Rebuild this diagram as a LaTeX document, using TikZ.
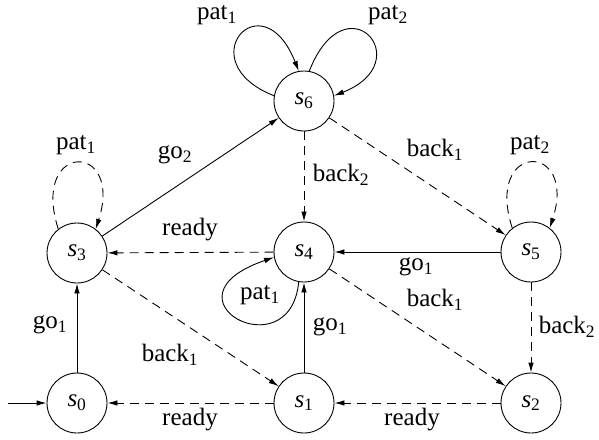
\documentclass[tikz,border=0pt]{standalone}
\usepackage{fontspec}
\setmainfont{Liberation Serif}
\usetikzlibrary{arrows.meta}
\newcommand\lsub[1]{\textsubscript{#1}}
\begin{document}
\begin{tikzpicture}[x=1pt,y=-1pt, line width=0.9pt, >={Latex[length=10pt,width=5.5pt]},
  state/.style={circle,draw,minimum size=60pt,inner sep=0pt},
  lbl/.style={inner sep=0pt},
  dsh/.style={dash pattern=on 9pt off 6pt},
  every node/.style={font=\fontsize{25}{30}\selectfont}]
\useasboundingbox (0,0) rectangle (599,439);
\node[state] (s6) at (304,101) {\textit{s}\lsub{6}};
\node[state] (s3) at (77,253) {\textit{s}\lsub{3}};
\node[state] (s4) at (304,252) {\textit{s}\lsub{4}};
\node[state] (s5) at (531,252) {\textit{s}\lsub{5}};
\node[state] (s0) at (77,403) {\textit{s}\lsub{0}};
\node[state] (s1) at (304,403) {\textit{s}\lsub{1}};
\node[state] (s2) at (531,403) {\textit{s}\lsub{2}};
\coordinate (init) at (8,403);
\draw[->] (init) -- (s0);
\draw[->] (s0) -- (s3);
\draw[->] (s3) -- (s6);
\draw[->,dsh] (s4) -- (s3);
\draw[->,dsh] (s3) -- (s1);
\draw[->,dsh] (s1) -- (s0);
\draw[->] (s1) -- (s4);
\draw[->,dsh] (s6) -- (s4);
\draw[->,dsh] (s6) -- (s5);
\draw[->] (s5) -- (s4);
\draw[->,dsh] (s4) -- (s2);
\draw[->,dsh] (s5) -- (s2);
\draw[->,dsh] (s2) -- (s1);
\draw[->,dsh] (s3.128) .. controls (30,141) and (124,141) .. (s3.52);
\draw[->,dsh] (s5.128) .. controls (484,141) and (578,141) .. (s5.52);
\draw[->] (s6.170) .. controls (188,62) and (262,-22) .. (s6.100);
\draw[->] (s6.80) .. controls (346,-22) and (420,62) .. (s6.10);
\draw[->] (s4.-100) .. controls (290,372) and (155,298) .. (s4.190);
\node[lbl] (l1) at (217,15) {pat\lsub{1}};
\node[lbl] (l2) at (388,15) {pat\lsub{2}};
\node[lbl] (l3) at (76,145) {pat\lsub{1}};
\node[lbl] (l4) at (175,155) {go\lsub{2}};
\node[lbl] (l5) at (341,175) {back\lsub{2}};
\node[lbl] (l6) at (435,150) {back\lsub{1}};
\node[lbl] (l7) at (530,145) {pat\lsub{2}};
\node[lbl] (l8) at (190,230) {ready};
\node[lbl] (l9) at (260,295) {pat\lsub{1}};
\node[lbl] (l10) at (416,267) {go\lsub{1}};
\node[lbl] (l11) at (435,300) {back\lsub{1}};
\node[lbl] (l12) at (50,325) {go\lsub{1}};
\node[lbl] (l13) at (330,327) {go\lsub{1}};
\node[lbl] (l14) at (567,327) {back\lsub{2}};
\node[lbl] (l15) at (170,355) {back\lsub{1}};
\node[lbl] (l16) at (190,420) {ready};
\node[lbl] (l17) at (412,420) {ready};
\end{tikzpicture}
\end{document}
